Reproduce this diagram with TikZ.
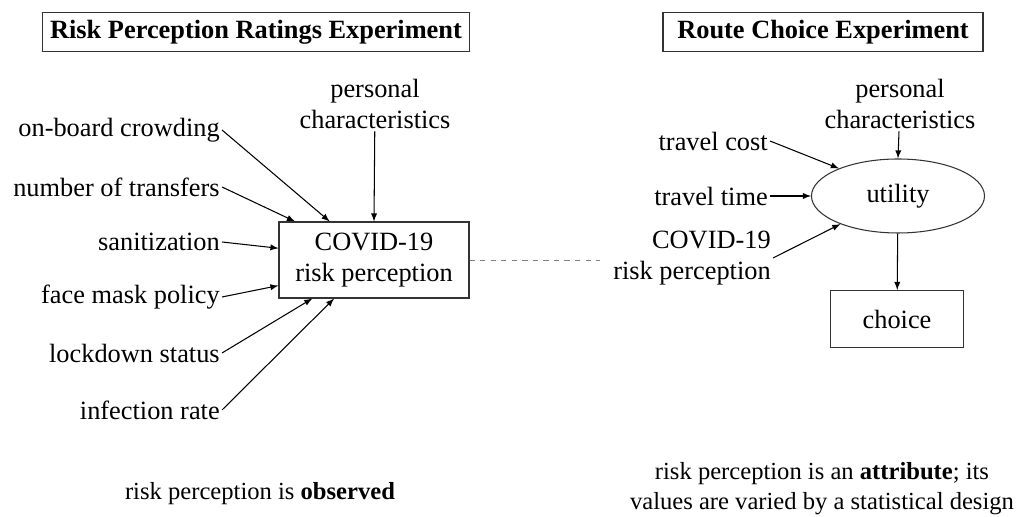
\documentclass[tikz,border=0pt]{standalone}
\usepackage{fontspec}
\setmainfont{Liberation Serif}
\usetikzlibrary{shapes.geometric}
\begin{document}
\begin{tikzpicture}[semithick, >=latex,
        every node/.style = {font=\fontsize{15}{18}\selectfont},
        title/.style = {draw=black!80, font=\fontsize{15}{18}\selectfont\bfseries,
            minimum height = 0.78cm},
        factor/.style = {anchor=east, inner sep=1pt},
        two/.style = {align=center, inner sep=1pt},
        note/.style = {align=center, font=\fontsize{14}{17}\selectfont},
        box/.style = {draw=black!80, align=center}]

    \useasboundingbox (0,0) rectangle (20.46,10.34);

    % Titles
    \node[title, minimum width=8.54cm] (tleft) at (5.12,9.70) {Risk Perception Ratings Experiment};
    \node[title, minimum width=6.40cm] (tright) at (16.46,9.70) {Route Choice Experiment};

    % Ratings experiment
    \node[box, minimum width=3.8cm, minimum height=1.52cm] (risk) at (7.48,5.14) {COVID-19\\risk perception};
    \node[two] (pcl) at (7.5,8.26) {personal\\characteristics};

    \node[factor] (crowd) at (4.44,7.74) {on-board crowding};
    \node[factor] (transf) at (4.44,6.60) {number of transfers};
    \node[factor] (sanit) at (4.44,5.50) {sanitization};
    \node[factor] (mask) at (4.44,4.40) {face mask policy};
    \node[factor] (lock) at (4.44,3.28) {lockdown status};
    \node[factor] (infect) at (4.44,2.14) {infection rate};

    \draw[->] (pcl) -- (risk.north);
    \draw[->] (crowd.east) -- (risk.139);
    \draw[->] (transf.east) -- (risk.154);
    \draw[->] (sanit.east) -- (risk.173);
    \draw[->] (mask.east) -- (risk.195);
    \draw[->] (lock.east) -- (risk.212);
    \draw[->] (infect.east) -- (risk.224);

    % Link between experiments
    \coordinate (dashend) at (12.0,5.14);
    \draw[dashed, gray, thin] (risk.east) -- (dashend);

    % Route choice experiment
    \node[draw=black!80, ellipse, minimum width=3.46cm, minimum height=1.48cm] (util) at (17.96,6.42) {utility};
    \node[box, minimum width=2.66cm, minimum height=1.14cm] (choice) at (17.94,3.96) {choice};
    \node[two] (pcr) at (18.0,8.26) {personal\\characteristics};

    \node[factor] (cost) at (15.4,7.52) {travel cost};
    \node[factor] (time) at (15.4,6.42) {travel time};
    \node[factor, align=right] (rattr) at (15.46,5.18) {COVID-19\\risk perception};

    \draw[->] (pcr) -- (util.north);
    \draw[->] (cost.east) -- (util.155);
    \draw[->] (time.east) -- (util.west);
    \draw[->] (rattr.east) -- (util.206);
    \draw[->] (util) -- (choice);

    % Notes
    \node[note] (nleft) at (5.2,0.46) {risk perception is \textbf{observed}};
    \node[note] (nright) at (16.44,0.56) {risk perception is an \textbf{attribute}; its\\values are varied by a statistical design};

\end{tikzpicture}
\end{document}
